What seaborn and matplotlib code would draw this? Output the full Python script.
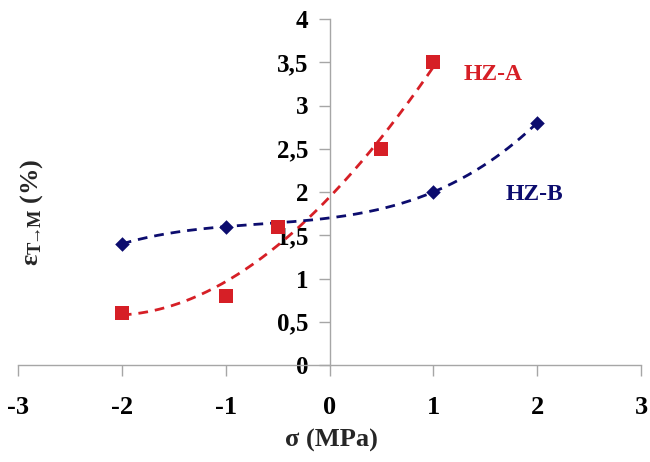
import numpy as np
import pandas as pd
import matplotlib
matplotlib.use("Agg")
import matplotlib.pyplot as plt
import seaborn as sns
from matplotlib.ticker import FuncFormatter

# ---- data ----
hza_x = [-2, -1, -0.5, 0.5, 1]
hza_y = [0.6, 0.8, 1.6, 2.5, 3.5]
hzb_x = [-2, -1, 1, 2]
hzb_y = [1.4, 1.6, 2.0, 2.8]
x_ticks = [-3, -2, -1, 0, 1, 2, 3]
y_ticks = [0, 0.5, 1, 1.5, 2, 2.5, 3, 3.5, 4]

RED = "#d61f26"
NAVY = "#0c0c6e"

sns.set_theme(style="white")
plt.rcParams["font.family"] = ["Liberation Serif", "DejaVu Serif"]
plt.rcParams["font.weight"] = "bold"
plt.rcParams["mathtext.fontset"] = "custom"
plt.rcParams["mathtext.rm"] = "Liberation Serif:bold"
plt.rcParams["mathtext.it"] = "Liberation Serif:bold"
plt.rcParams["mathtext.bf"] = "Liberation Serif:bold"

fig = plt.figure(figsize=(6.5, 4.62), dpi=100)
ax = fig.add_axes([18/650, 1-365/462, (641-18)/650, (365-19)/462])

dfa = pd.DataFrame({"x": hza_x, "y": hza_y})
dfb = pd.DataFrame({"x": hzb_x, "y": hzb_y})

# trendlines (polynomial fits of the data)
ca = np.polyfit(hza_x, hza_y, 3)
cb = np.polyfit(hzb_x, hzb_y, 3)
xa = np.linspace(min(hza_x), max(hza_x), 200)
xb = np.linspace(min(hzb_x), max(hzb_x), 200)
fa = pd.DataFrame({"x": xa, "y": np.polyval(ca, xa)})
fb = pd.DataFrame({"x": xb, "y": np.polyval(cb, xb)})

sns.lineplot(data=fa, x="x", y="y", ax=ax, color=RED, lw=2, dashes=False)
sns.lineplot(data=fb, x="x", y="y", ax=ax, color=NAVY, lw=2, dashes=False)
for l in ax.lines:
    l.set_linestyle((0, (3.5, 2.5)))

sns.scatterplot(data=dfb, x="x", y="y", ax=ax, marker="D", s=55, color=NAVY,
                edgecolor=NAVY, linewidth=0, zorder=5)
sns.scatterplot(data=dfa, x="x", y="y", ax=ax, marker="s", s=110, color=RED,
                edgecolor=RED, linewidth=0, zorder=6)

ax.set_xlim(-3, 3)
ax.set_ylim(0, 4)
ax.set_xticks(x_ticks)
ax.set_yticks(y_ticks)
ax.xaxis.set_major_formatter(FuncFormatter(lambda v, p: f"{v:g}"))
ax.yaxis.set_major_formatter(FuncFormatter(lambda v, p: f"{v:g}".replace(".", ",")))

for s in ["top", "right"]:
    ax.spines[s].set_visible(False)
ax.spines["left"].set_position(("data", 0))
for s in ["left", "bottom"]:
    ax.spines[s].set_color("#a6a6a6")
    ax.spines[s].set_linewidth(1)

ax.tick_params(axis="x", direction="out", length=8, width=1, color="#a6a6a6",
               labelsize=19, pad=14, bottom=True)
ax.tick_params(axis="y", direction="out", length=8, width=1, color="#a6a6a6",
               labelsize=18, pad=7, left=True)
for t in ax.get_xticklabels() + ax.get_yticklabels():
    t.set_fontweight("bold")
    t.set_color("black")

ax.set_xlabel("")
ax.set_ylabel("")
fig.text(331/650, 1-440/462, "σ (MPa)", ha="center", va="center",
         fontsize=19, fontweight="bold")
fig.text(32/650, 1-212/462, r"ε$_{\mathrm{T\!\!\rightarrow\!\!M}}$ (%)", ha="center",
         va="center", rotation=90, fontsize=19, fontweight="bold")

ax.text(1.29, 3.36, "HZ-A", color=RED, fontsize=17, fontweight="bold",
        va="center", ha="left")
ax.text(1.70, 1.97, "HZ-B", color=NAVY, fontsize=17, fontweight="bold",
        va="center", ha="left")

fig.savefig("out.png", dpi=100)
